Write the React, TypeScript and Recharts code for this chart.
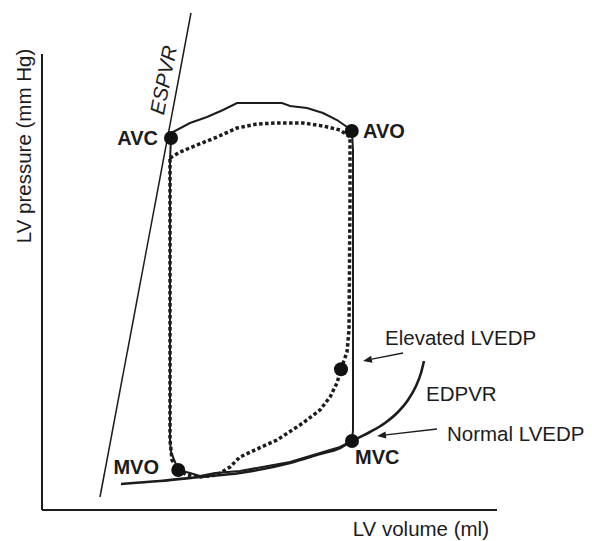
import { ComposedChart, Line, Scatter, XAxis, YAxis, ReferenceLine, ReferenceDot } from "recharts";

// volume (ml) vs pressure (mm Hg)
const espvr = [
  { v: 23.2, p: 3.25 },
  { v: 59.6, p: 124.25 },
];

const edpvr = [
  { v: 31.6, p: 6.5 }, { v: 47.2, p: 7.25 }, { v: 63.2, p: 8.25 }, { v: 79.2, p: 9.25 },
  { v: 99.2, p: 11.75 }, { v: 111.2, p: 14 }, { v: 119.2, p: 15.5 }, { v: 124, p: 17.25 },
  { v: 131.2, p: 19.5 }, { v: 137.2, p: 21.75 }, { v: 142.4, p: 24.5 }, { v: 146.4, p: 27.5 },
  { v: 149.6, p: 31 }, { v: 151.6, p: 34.25 }, { v: 152.8, p: 37.25 },
];

const normalLoop = [
  { v: 51.6, p: 93 }, { v: 52.4, p: 94.5 }, { v: 59.2, p: 96.75 }, { v: 66, p: 98.25 },
  { v: 72.4, p: 100 }, { v: 78, p: 101.75 }, { v: 96, p: 101.75 }, { v: 99.2, p: 101 },
  { v: 106, p: 100.5 }, { v: 112.4, p: 99.25 }, { v: 118, p: 97.5 }, { v: 122, p: 95.75 },
  { v: 124, p: 94.5 }, { v: 124.4, p: 90 }, { v: 124.4, p: 20 }, { v: 124, p: 17.25 },
  { v: 119.2, p: 15.75 }, { v: 99.2, p: 12 }, { v: 79.2, p: 9.75 }, { v: 69.2, p: 9.25 },
  { v: 63.2, p: 8.5 }, { v: 59.2, p: 9.25 }, { v: 54.5, p: 10 }, { v: 53.2, p: 12 },
  { v: 51.6, p: 14.5 }, { v: 51.2, p: 17.5 }, { v: 51.2, p: 87.5 }, { v: 51.6, p: 93 },
];

const elevatedLoop = [
  { v: 51.2, p: 88 }, { v: 55.2, p: 89.5 }, { v: 62, p: 91.25 }, { v: 70, p: 93.25 },
  { v: 78, p: 95.5 }, { v: 86, p: 96.5 }, { v: 94, p: 96.75 }, { v: 104.4, p: 96.75 },
  { v: 112.4, p: 96 }, { v: 119.2, p: 95 }, { v: 123.2, p: 93.25 }, { v: 123.2, p: 77.5 },
  { v: 122.8, p: 45 }, { v: 122, p: 39.5 }, { v: 119.6, p: 35.25 }, { v: 118, p: 31.75 },
  { v: 115.2, p: 28.25 }, { v: 111.2, p: 25 }, { v: 104.4, p: 21.75 }, { v: 94, p: 17.5 },
  { v: 86, p: 15.25 }, { v: 79.2, p: 13.25 }, { v: 75.2, p: 10.75 }, { v: 70, p: 8.75 },
  { v: 63.2, p: 8.25 }, { v: 58, p: 8.75 }, { v: 54.4, p: 10 }, { v: 52, p: 12.5 },
  { v: 51.2, p: 17.5 }, { v: 51.2, p: 88 },
];

const valvePoints = [
  { v: 51.6, p: 93 },   // AVC
  { v: 123.9, p: 94.75 }, // AVO
  { v: 54.5, p: 10 },   // MVO
  { v: 124, p: 17.25 }, // MVC
  { v: 119.6, p: 35.2 }, // elevated LVEDP
];

const arrows = [
  { from: { v: 144.4, p: 39.25 }, to: { v: 128.4, p: 37.25 } },
  { from: { v: 158, p: 20.25 }, to: { v: 134, p: 18.5 } },
];

const notes = [
  { v: 46.4, p: 93, text: "AVC", anchor: "end", bold: true },
  { v: 128.4, p: 94.75, text: "AVO", anchor: "start", bold: true },
  { v: 46.8, p: 10.75, text: "MVO", anchor: "end", bold: true },
  { v: 125.2, p: 13.25, text: "MVC", anchor: "start", bold: true },
  { v: 137.2, p: 43.25, text: "Elevated LVEDP", anchor: "start" },
  { v: 153.6, p: 29.25, text: "EDPVR", anchor: "start" },
  { v: 162, p: 19.25, text: "Normal LVEDP", anchor: "start" },
  { v: 48.4, p: 107.5, text: "ESPVR", anchor: "middle", italic: true, angle: -79 },
  { v: -7.6, p: 91, text: "LV pressure (mm Hg)", anchor: "middle", angle: -90 },
  { v: 178.8, p: -4.5, text: "LV volume (ml)", anchor: "end" },
];

const FONT = "'Liberation Sans', Arial, Helvetica, sans-serif";
const INK = "#1c1c1c";

function Arrow(props: any) {
  const { x1, y1, x2, y2 } = props;
  const ang = Math.atan2(y2 - y1, x2 - x1);
  const len = 9, half = 3.5;
  const bx = x2 - len * Math.cos(ang), by = y2 - len * Math.sin(ang);
  const px = -Math.sin(ang) * half, py = Math.cos(ang) * half;
  return (
    <g>
      <line x1={x1} y1={y1} x2={bx} y2={by} stroke={INK} strokeWidth={1.3} />
      <polygon points={`${x2},${y2} ${bx + px},${by + py} ${bx - px},${by - py}`} fill={INK} />
    </g>
  );
}

export default function App() {
  return (
    <div style={{ position: "absolute", left: 0, top: 0, background: "#fff" }}>
      <ComposedChart width={592} height={541} margin={{ top: 10, right: 95, bottom: 0, left: 0 }}>
        <XAxis type="number" dataKey="v" domain={[0, 182]} allowDataOverflow tick={false} tickLine={false}
          height={31} axisLine={{ stroke: INK, strokeWidth: 2 }} />
        <YAxis type="number" dataKey="p" domain={[0, 125]} allowDataOverflow tick={false} tickLine={false}
          width={42} axisLine={false} />

        <ReferenceLine segment={[{ x: 0, y: 0 }, { x: 0, y: 114 }]} stroke={INK} strokeWidth={2} />

        <Line data={espvr} dataKey="p" type="linear" stroke={INK} strokeWidth={1.5} dot={false} isAnimationActive={false} />
        <Line data={edpvr} dataKey="p" type="monotone" stroke={INK} strokeWidth={2.6} dot={false} isAnimationActive={false} />
        <Line data={normalLoop} dataKey="p" type="linear" stroke={INK} strokeWidth={2} dot={false} isAnimationActive={false} />
        <Line data={elevatedLoop} dataKey="p" type="linear" stroke={INK} strokeWidth={3.5} strokeDasharray="3.5 2.5"
          dot={false} isAnimationActive={false} />
        <Scatter data={valvePoints} fill="#111" isAnimationActive={false}
          shape={(s: any) => <circle cx={s.cx} cy={s.cy} r={7} fill="#111" />} />

        {arrows.map((a, i) => (
          <ReferenceLine key={i} segment={[{ x: a.from.v, y: a.from.p }, { x: a.to.v, y: a.to.p }]}
            shape={(s: any) => <Arrow {...s} />} />
        ))}

        {notes.map((n: any) => (
          <ReferenceDot key={n.text} x={n.v} y={n.p} r={0} ifOverflow="visible"
            shape={(s: any) => (
              <text x={s.cx} y={s.cy} textAnchor={n.anchor} dominantBaseline="central"
                transform={n.angle ? `rotate(${n.angle}, ${s.cx}, ${s.cy})` : undefined}
                style={{ fontFamily: FONT, fontSize: n.bold ? 20 : 20.5, fontWeight: n.bold ? 700 : 400,
                  fontStyle: n.italic ? "italic" : "normal", fill: INK }}>
                {n.text}
              </text>
            )} />
        ))}
      </ComposedChart>
    </div>
  );
}
